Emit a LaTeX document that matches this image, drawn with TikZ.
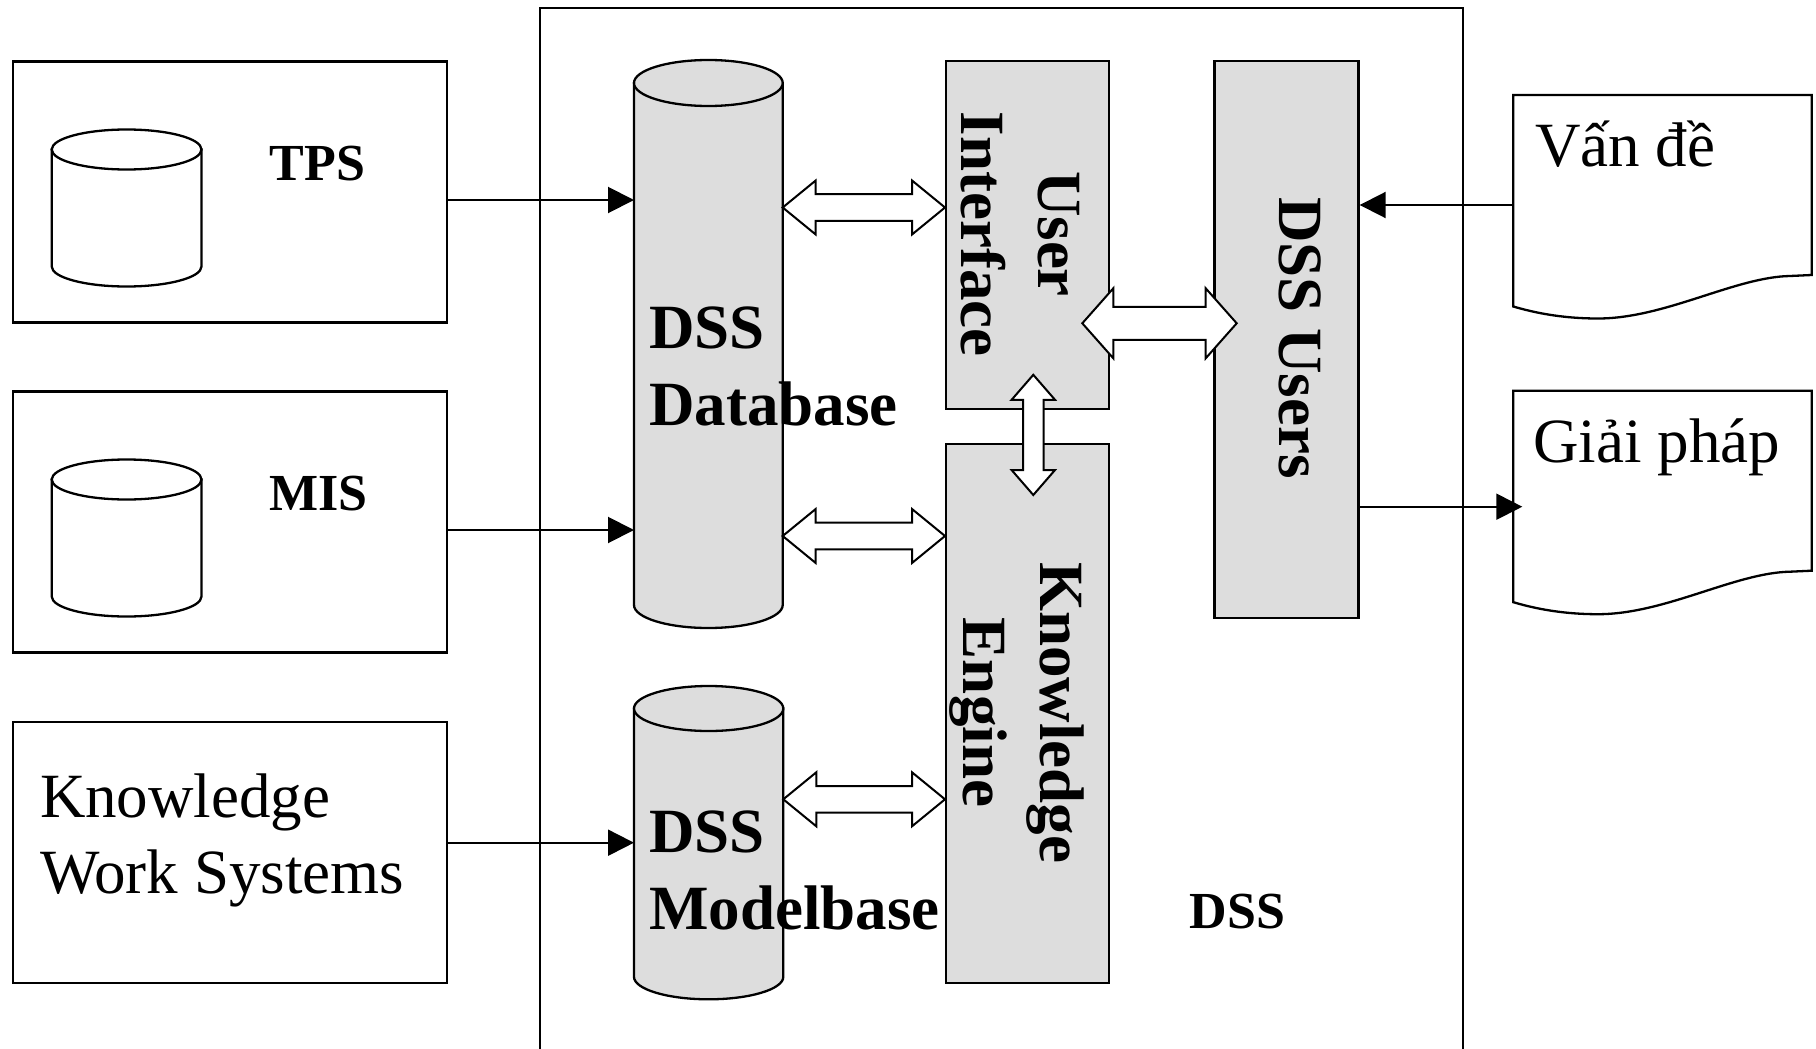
\documentclass[tikz,border=0pt]{standalone}
\usepackage{fontspec}
\setmainfont{Liberation Serif}
\usetikzlibrary{arrows.meta,calc}
\definecolor{panelgray}{HTML}{DDDDDD}

% Upright cylinder: name, left, top, right, bottom, end radius, fill colour
\newcommand\drum[7]{%
  \pgfmathsetmacro\drumcx{(#2+#4)/2}%
  \pgfmathsetmacro\drumrx{(#4-#2)/2}%
  \pgfmathsetmacro\drumkx{0.5523*\drumrx}%
  \pgfmathsetmacro\drumky{0.5523*#6}%
  \draw[outline,fill=#7] (#2,#3+#6) -- (#2,#5-#6)
     .. controls (#2,#5-#6+\drumky) and (\drumcx-\drumkx,#5) .. (\drumcx,#5)
     .. controls (\drumcx+\drumkx,#5) and (#4,#5-#6+\drumky) .. (#4,#5-#6)
     -- (#4,#3+#6) -- cycle;
  \draw[outline,fill=#7] (\drumcx,#3+#6) ellipse [x radius=\drumrx, y radius=#6];
  \node[anchor=north west,inner sep=0pt,outer sep=0pt,
        minimum width={#4-#2},minimum height={#5-#3}] (#1) at (#2,#3) {};
}

% Document sheet with a wavy lower edge: name, top edge
\newcommand\sheet[2]{%
  \draw[outline,fill=white] (1513.3,#2) -- (1811.7,#2) -- (1811.7,#2+180)
     -- (1790,#2+181) .. controls (1735,#2+182) and (1665,#2+223.5) .. (1598,#2+223.5)
     .. controls (1560,#2+223.5) and (1532,#2+217) .. (1513.3,#2+211.5) -- cycle;
  \node[anchor=north west,inner sep=0pt,outer sep=0pt,
        minimum width=298.4,minimum height=211.5] (#1) at (1513.3,#2) {};
}

% Hollow two-headed block arrow: end, end, head length, head half-width, shaft half-width
\newcommand\twoway[5]{%
  \path (#1) coordinate (tw-a) (#2) coordinate (tw-b);
  \path ($(tw-a)!#3pt!(tw-b)$) coordinate (tw-p) ($(tw-b)!#3pt!(tw-a)$) coordinate (tw-q);
  \draw[hollow] (tw-a) -- ($(tw-p)!#4pt!90:(tw-b)$) -- ($(tw-p)!#5pt!90:(tw-b)$)
     -- ($(tw-q)!#5pt!-90:(tw-a)$) -- ($(tw-q)!#4pt!-90:(tw-a)$) -- (tw-b)
     -- ($(tw-q)!#4pt!90:(tw-a)$) -- ($(tw-q)!#5pt!90:(tw-a)$)
     -- ($(tw-p)!#5pt!-90:(tw-b)$) -- ($(tw-p)!#4pt!-90:(tw-b)$) -- cycle;
}

\begin{document}
\begin{tikzpicture}[x=1pt,y=-1pt,
  outline/.style={draw=black,line width=2.3pt,line join=miter},
  box/.style={outline,rectangle,inner sep=0pt,anchor=north west},
  grey box/.style={box,fill=panelgray},
  flow/.style={line width=2pt,-{Triangle[length=26pt,width=26pt]}},
  hollow/.style={draw=black,fill=white,line width=2pt,line join=miter},
  txt/.style={inner sep=0pt,outer sep=0pt},
  bold big/.style={txt,font=\bfseries\fontsize{63}{76}\selectfont},
  bold small/.style={txt,font=\bfseries\fontsize{52}{62}\selectfont},
  plain big/.style={txt,font=\fontsize{63}{76}\selectfont},
]
\fill[white] (0,0) rectangle (1816,1049);
\useasboundingbox (0,0) rectangle (1816,1049);

% DSS frame, open at the bottom
\draw[line width=2pt] (540,1049) -- (540,7.6) -- (1463,7.6) -- (1463,1049);

% source systems
\node[box,minimum width=434,minimum height=261] (tps) at (11.5,60.3) {};
\node[box,minimum width=434,minimum height=261] (mis) at (11.5,390.3) {};
\node[box,minimum width=434,minimum height=260.7] (kws) at (11.7,721) {};
\drum{tpsdb}{51.7}{129.5}{201.5}{286.5}{20}{white}
\drum{misdb}{51.7}{459.5}{201.5}{616.5}{20}{white}

% DSS components
\drum{db}{634}{60}{782.7}{628}{23}{panelgray}
\drum{mb}{634}{686}{783.3}{999.3}{22.5}{panelgray}
\node[grey box,minimum width=162.7,minimum height=347.5] (ui) at (945,60) {};
\node[grey box,minimum width=163,minimum height=539] (ke) at (945,442.7) {};
\node[grey box,minimum width=144,minimum height=556.5] (users) at (1213.4,60) {};

% problem and solution sheets
\sheet{issue}{95}
\sheet{answer}{390.7}

% labels
\node[bold small,anchor=base] (tpsname) at (317.3,180.8) {TPS};
\node[bold small,anchor=base] (misname) at (318.7,510.3) {MIS};
\node[plain big,anchor=base west] (kws1) at (40,817.3) {Knowledge};
\node[plain big,anchor=base west] (kws2) at (40,893.3) {Work Systems};
\node[bold big,anchor=base west] (db1) at (649.3,348.3) {DSS};
\node[bold big,anchor=base west] (db2) at (649.3,425) {Database};
\node[bold big,anchor=base west] (mb1) at (649.3,852.7) {DSS};
\node[bold big,anchor=base west] (mb2) at (649.3,929.3) {Modelbase};
\node[bold big,anchor=base,rotate=-90] (ui1) at (1038.3,234) {User};
\node[bold big,anchor=base,rotate=-90] (ui2) at (961.7,234) {Interface};
\node[bold big,anchor=base,rotate=-90] (ke1) at (1040,712.5) {Knowledge};
\node[bold big,anchor=base,rotate=-90] (ke2) at (963.3,712.5) {Engine};
\node[bold big,anchor=base,rotate=-90] (usersname) at (1279.7,338) {DSS Users};
\node[bold small,anchor=base] (dssname) at (1237.5,928.3) {DSS};
\node[plain big,anchor=base west] (issuetext) at (1535,166) {Vấn đề};
\node[plain big,anchor=base west] (answertext) at (1533.3,462) {Giải pháp};

% data flows
\draw[flow] (tps.east |- 0,200) -- (db.west |- 0,200);
\draw[flow] (mis.east |- 0,530) -- (db.west |- 0,530);
\draw[flow] (kws.east |- 0,842.7) -- (mb.west |- 0,842.7);
\draw[flow] (issue.west |- 0,205) -- (users.east |- 0,205);
\draw[flow] (users.east |- 0,506.7) -- ($(answer.west |- 0,506.7)+(9,0)$);

% two-way exchanges
\twoway{db.east |- 0,207.5}{ui.west |- 0,207.5}{33}{27}{13.3}
\twoway{db.east |- 0,536}{ke.west |- 0,536}{33}{27}{13.3}
\twoway{mb.east |- 0,799.3}{ke.west |- 0,799.3}{33}{27}{13.3}
\twoway{$(ui.east |- 0,323.3)+(-27.7,0)$}{$(users.west |- 0,323.3)+(23.3,0)$}{31}{35}{16.5}
\twoway{$(ui.south -| 1033.3,0)+(0,-35)$}{$(ke.north -| 1033.3,0)+(0,52.3)$}{25}{21.7}{10.3}
\end{tikzpicture}
\end{document}
